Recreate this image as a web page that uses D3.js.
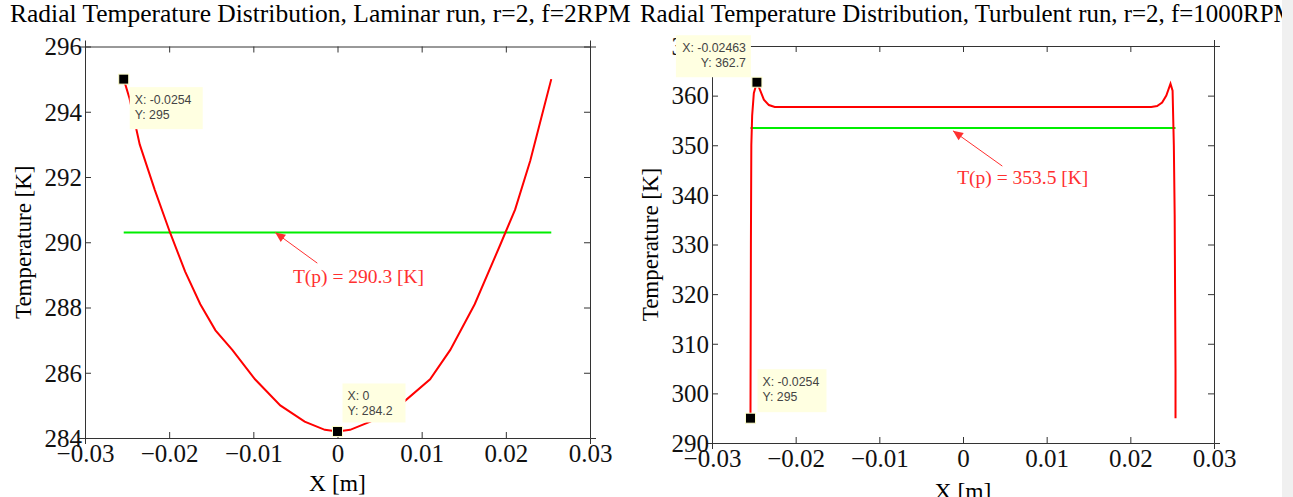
<!DOCTYPE html>
<html>
<head>
<meta charset="utf-8">
<script src="https://cdn.jsdelivr.net/npm/d3@7"></script>
<style>
  body { margin: 0; background: #fff; }
  svg { display: block; }
  .tick text { font-family: 'Liberation Serif', 'Times New Roman', serif; }
</style>
</head>
<body>
<svg id="chart"></svg>
<script>
// laminar run, r=2, f=2RPM
const lamX = [-0.0254, -0.0247, -0.0235, -0.0217, -0.0199, -0.0181, -0.0163, -0.0145, -0.0125, -0.0098, -0.0068, -0.0039, -0.0015, 0,
              0.0015, 0.0039, 0.0074, 0.0110, 0.0134, 0.0163, 0.0193, 0.0211, 0.0229, 0.0242, 0.0254];
const lamT = [295.0, 294.4, 293.0, 291.6, 290.3, 289.1, 288.1, 287.3, 286.7, 285.8, 285.0, 284.5, 284.25, 284.2,
              284.25, 284.5, 285.0, 285.8, 286.7, 288.1, 289.9, 291.0, 292.5, 293.8, 295.0];
const lamMean = 290.3;
const lamYTicks = [284, 286, 288, 290, 292, 294, 296];

// turbulent run, r=2, f=1000RPM
const turbX = [-0.0254, -0.02535, -0.0253, -0.0252, -0.0250, -0.02463, -0.0243, -0.0238, -0.0232, -0.0225, 0, 0.0225, 0.0232, 0.0238, 0.0243,
               0.0248, 0.02505, 0.0252, 0.0253, 0.02535, 0.0254, 0.0254];
const turbT = [295.0, 330.0, 350.0, 356.0, 360.5, 362.7, 361.3, 359.2, 358.1, 357.7, 357.7, 357.7, 357.9, 358.6, 360.0,
               362.4, 361.0, 350.0, 336.0, 320.0, 305.0, 295.0];
const turbMean = 353.5;
const turbYTicks = [290, 300, 310, 320, 330, 340, 350, 360, 370];

const xTicks = [-0.03, -0.02, -0.01, 0, 0.01, 0.02, 0.03];

// data tips [x, y]
const lamTips = [[-0.0254, 295], [0, 284.2]];
const turbTips = [[-0.02463, 362.7], [-0.0254, 295]];

// annotation arrows: [tipX, tipY, tailX, tailY, textX, textY]
const lamNote = [-0.0074, 290.3, -0.0024, 289.36, -0.0053, 288.74];
const turbNote = [-0.0012, 352.9, 0.0047, 345.8, -0.0007, 342.2];

class LinePlot {
    constructor( config, data ) {
        this.config = config;
        this.data = data;
        this.init();
    }

    init() {
        let self = this;
        const c = self.config;
        self.g = d3.select('#chart').append('g');
        self.xscale = d3.scaleLinear().domain([-0.03, 0.03]).range([c.left, c.right]);
        self.yscale = d3.scaleLinear().domain(c.ydomain).range([c.bottom, c.top]);
        self.render();
    }

    render() {
        let self = this;
        const c = self.config, d = self.data;
        const serif = "'Liberation Serif', 'Times New Roman', serif";
        const sans = "'Liberation Sans', Arial, sans-serif";
        const axisColor = '#333';

        // title
        self.g.append('text')
            .attr('x', c.titleX).attr('y', 22)
            .style('font-family', serif).style('font-size', c.titleSize)
            .text(c.title);

        // box + inward ticks
        const tick = 6;
        const axes = [
            [d3.axisBottom(self.xscale).tickValues(xTicks).tickSize(tick).tickFormat(d3.format('')), c.bottom, 'x', true],
            [d3.axisTop(self.xscale).tickValues(xTicks).tickSize(tick).tickFormat(''), c.top, 'x', false],
            [d3.axisLeft(self.yscale).tickValues(d.yTicks).tickSize(tick).tickFormat(d3.format('')), c.left, 'y', true],
            [d3.axisRight(self.yscale).tickValues(d.yTicks).tickSize(tick).tickFormat(''), c.right, 'y', false]
        ];
        axes.forEach(([ax, pos, dir, labels]) => {
            const grp = self.g.append('g')
                .attr('transform', dir === 'x' ? `translate(0,${pos})` : `translate(${pos},0)`)
                .call(ax);
            grp.select('.domain').attr('stroke', axisColor);
            grp.selectAll('.tick line').attr('stroke', axisColor)
                .attr(dir === 'x' ? 'y2' : 'x2', function() {
                    const v = +d3.select(this).attr(dir === 'x' ? 'y2' : 'x2');
                    return -v;
                });
            grp.selectAll('.tick text')
                .style('font-size', '25px').attr('fill', '#111');
            if (labels && dir === 'x') grp.selectAll('.tick text').attr('y', 6).attr('dy', '0.71em');
            if (labels && dir === 'y') grp.selectAll('.tick text').attr('x', -3).attr('dy', '0.33em');
        });

        // axis labels
        self.g.append('text')
            .attr('x', (c.left + c.right) / 2).attr('y', c.xlabelY)
            .attr('text-anchor', 'middle')
            .style('font-family', serif).style('font-size', '23.5px')
            .text('X [m]');
        self.g.append('text')
            .attr('transform', `translate(${c.ylabelX},${(c.top + c.bottom) / 2}) rotate(-90)`)
            .attr('text-anchor', 'middle')
            .style('font-family', serif).style('font-size', '23px')
            .text('Temperature [K]');

        // mean line
        const xext = d3.extent(d.x);
        self.g.append('line')
            .attr('x1', self.xscale(xext[0])).attr('x2', self.xscale(xext[1]))
            .attr('y1', self.yscale(d.mean)).attr('y2', self.yscale(d.mean))
            .attr('stroke', '#00ee00').attr('stroke-width', 2);

        // curve
        const pts = d.x.map((v, i) => [v, d.t[i]]);
        const line = d3.line().x(p => self.xscale(p[0])).y(p => self.yscale(p[1]));
        self.g.append('path')
            .datum(pts)
            .attr('d', line)
            .attr('fill', 'none').attr('stroke', '#ff0000').attr('stroke-width', 2);

        // annotation
        const n = d.note;
        const tipX = self.xscale(n[0]), tipY = self.yscale(n[1]);
        const tailX = self.xscale(n[2]), tailY = self.yscale(n[3]);
        const ang = Math.atan2(tipY - tailY, tipX - tailX);
        self.g.append('line')
            .attr('x1', tailX).attr('y1', tailY).attr('x2', tipX).attr('y2', tipY)
            .attr('stroke', '#ff3030').attr('stroke-width', 1);
        const ah = 11, aw = 0.42;
        self.g.append('path')
            .attr('d', `M${tipX},${tipY}L${tipX - ah * Math.cos(ang - aw)},${tipY - ah * Math.sin(ang - aw)}L${tipX - ah * Math.cos(ang + aw)},${tipY - ah * Math.sin(ang + aw)}Z`)
            .attr('fill', '#ff3030');
        self.g.append('text')
            .attr('x', self.xscale(n[4])).attr('y', self.yscale(n[5]))
            .style('font-family', serif).style('font-size', '19.5px')
            .attr('fill', '#ff3030')
            .text(`T(p) = ${d.mean} [K]`);

        // data tips
        d.tips.forEach((p, i) => {
            const px = self.xscale(p[0]), py = self.yscale(p[1]);
            const b = c.tipBoxes[i];
            self.g.append('rect')
                .attr('x', px + b[0]).attr('y', py + b[1]).attr('width', b[2]).attr('height', b[3])
                .attr('fill', '#ffffe1');
            const tx = b[4] ? px + b[0] + b[2] - 5 : px + b[0] + 5;
            ['X: ' + p[0], 'Y: ' + p[1]].forEach((s, j) => {
                self.g.append('text')
                    .attr('x', tx).attr('y', py + b[1] + 17 + j * 15)
                    .attr('text-anchor', b[4] ? 'end' : 'start')
                    .style('font-family', sans).style('font-size', '12.3px')
                    .attr('fill', '#444')
                    .text(s);
            });
            self.g.append('rect')
                .attr('x', px - 5).attr('y', py - 5).attr('width', 10).attr('height', 10)
                .attr('fill', '#000').attr('stroke', '#ffffcc').attr('stroke-width', 1);
        });
    }
}

d3.select('#chart').attr('width', 1293).attr('height', 497);

new LinePlot({
    title: 'Radial Temperature Distribution, Laminar run, r=2, f=2RPM',
    titleX: 10, titleSize: '25.5px', left: 85, right: 590, top: 46.5, bottom: 438,
    ydomain: [284, 296], xlabelY: 491, ylabelX: 31,
    tipBoxes: [[6, 8, 73, 42, false], [5, -48, 63, 39, false]]
}, { x: lamX, t: lamT, mean: lamMean, yTicks: lamYTicks, tips: lamTips, note: lamNote });

new LinePlot({
    title: 'Radial Temperature Distribution, Turbulent run, r=2, f=1000RPM',
    titleX: 640, titleSize: '24.9px', left: 712, right: 1214, top: 46, bottom: 443,
    ydomain: [290, 370], xlabelY: 499, ylabelX: 658,
    tipBoxes: [[-81, -47, 75, 42, true], [7, -49, 69, 43, false]]
}, { x: turbX, t: turbT, mean: turbMean, yTicks: turbYTicks, tips: turbTips, note: turbNote });

// window edge strip
d3.select('#chart').append('rect')
    .attr('x', 1282).attr('y', 0).attr('width', 11).attr('height', 497)
    .attr('fill', '#f0f0f0');
</script>
</body>
</html>
